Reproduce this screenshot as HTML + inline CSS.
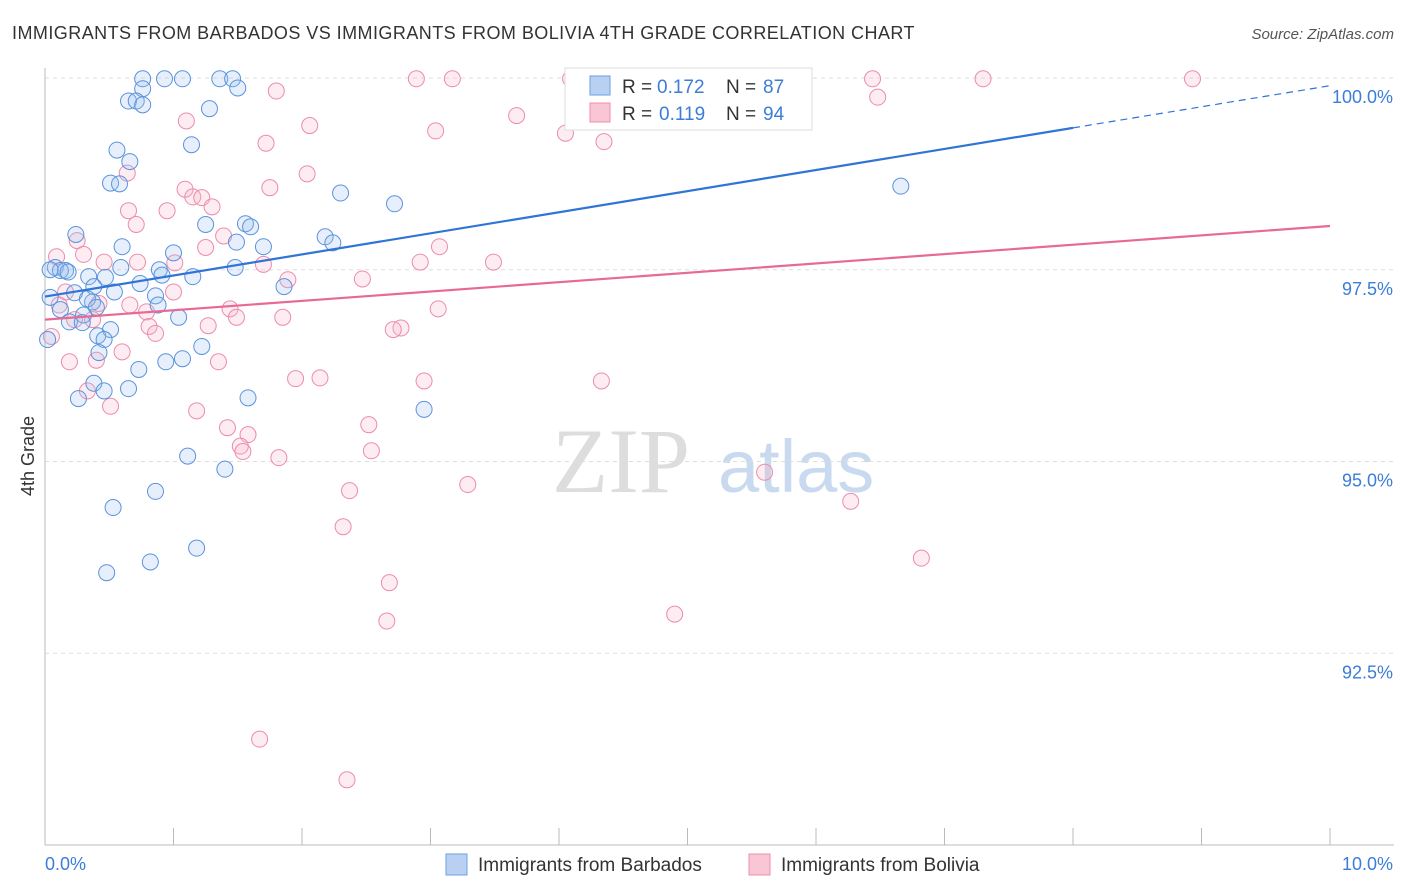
<!DOCTYPE html>
<html><head><meta charset="utf-8"><style>
body{margin:0;background:#fff;font-family:"Liberation Sans",sans-serif;}
svg{display:block}
</style></head><body>
<svg id="chart" width="1406" height="892">
<text x="12" y="39" font-size="18" fill="#333" letter-spacing="0.45">IMMIGRANTS FROM BARBADOS VS IMMIGRANTS FROM BOLIVIA 4TH GRADE CORRELATION CHART</text>
<text x="1394" y="39" font-size="15" fill="#555" font-style="italic" text-anchor="end">Source: ZipAtlas.com</text>
<text transform="translate(34,456) rotate(-90)" font-size="18" fill="#333" text-anchor="middle">4th Grade</text>
<g><text x="552" y="492" font-size="92" fill="#ddd" font-family="Liberation Serif,serif">ZIP</text><text x="718" y="492" font-size="74" fill="#c9d9ef">atlas</text></g>
<g id="grid"></g><g id="axes"></g><g id="pts"></g><g id="lines"></g>
<g>
<rect x="565" y="68" width="247" height="62" fill="#fff" stroke="#ddd"/>
<rect x="590" y="76" width="20" height="19" fill="#b8d1f3" stroke="#6e9fe0"/>
<rect x="590" y="103" width="20" height="19" fill="#f9c6d6" stroke="#ee8fae"/>
<text x="622" y="93" font-size="19" fill="#333">R =</text><text x="657" y="93" font-size="19" fill="#3b7dd8">0.172</text>
<text x="726" y="93" font-size="19" fill="#333">N =</text><text x="763" y="93" font-size="19" fill="#3b7dd8">87</text>
<text x="622" y="120" font-size="19" fill="#333">R =</text><text x="659" y="120" font-size="19" fill="#3b7dd8">0.119</text>
<text x="726" y="120" font-size="19" fill="#333">N =</text><text x="763" y="120" font-size="19" fill="#3b7dd8">94</text>
</g>
<g>
<rect x="446" y="854" width="21" height="21" fill="#b8d1f3" stroke="#6e9fe0"/>
<text x="478" y="871" font-size="19" fill="#333">Immigrants from Barbados</text>
<rect x="749" y="854" width="21" height="21" fill="#f9c6d6" stroke="#ee8fae"/>
<text x="781" y="871" font-size="19" fill="#333">Immigrants from Bolivia</text>
</g>
</svg>
<script>
const yTicks=[100,97.5,95,92.5];
const yTickLabels=["100.0%","97.5%","95.0%","92.5%"];
const xTicks=[0,1,2,3,4,5,6,7,8,9,10];
const xEndLabels=["0.0%","10.0%"];
const barbadosX=[0.76,0.93,1.07,1.36,1.46,1.50,0.76,0.65,0.71,0.76,1.28,1.14,0.56,0.66,0.51,0.58,2.30,2.72,6.66,0.24,1.56,1.60,1.25,1.49,1.70,0.60,1.00,2.18,2.24,0.08,0.16,0.12,0.18,0.59,0.89,1.48,0.47,0.34,0.74,1.15,0.91,1.86,0.54,0.04,0.23,0.38,0.37,0.86,0.88,0.33,0.12,0.40,0.30,1.04,0.19,0.29,0.51,0.41,0.46,1.22,0.42,1.07,0.94,0.73,0.38,0.65,0.46,0.26,1.58,2.95,1.11,1.40,0.86,0.53,1.18,0.82,0.48,0.02,0.04];
const barbadosY=[99.99,99.99,99.99,99.99,99.99,99.87,99.86,99.70,99.70,99.65,99.60,99.13,99.06,98.91,98.63,98.62,98.50,98.36,98.59,97.96,98.10,98.06,98.09,97.86,97.80,97.80,97.72,97.93,97.85,97.53,97.49,97.49,97.47,97.53,97.50,97.53,97.40,97.41,97.32,97.41,97.43,97.28,97.21,97.14,97.20,97.28,97.08,97.16,97.04,97.12,96.98,97.01,96.91,96.88,96.82,96.81,96.72,96.64,96.59,96.50,96.42,96.34,96.30,96.20,96.02,95.95,95.92,95.82,95.83,95.68,95.07,94.90,94.61,94.40,93.87,93.69,93.55,96.59,97.50];
const boliviaX=[4.09,2.89,3.17,5.60,6.44,7.30,8.93,1.80,6.48,3.67,1.10,2.06,3.04,4.05,4.35,1.72,2.04,0.64,1.09,1.75,1.15,1.22,1.30,0.65,0.95,0.71,1.39,0.25,1.25,3.07,0.09,0.30,0.46,0.72,1.01,1.70,2.92,3.49,2.47,1.89,1.00,0.66,0.16,0.42,0.11,0.79,1.44,1.49,1.85,3.06,0.23,0.37,0.81,0.86,1.27,2.77,2.71,0.05,0.60,0.19,0.40,1.35,1.95,2.14,2.95,4.33,0.33,1.18,0.51,1.42,2.52,1.58,1.52,1.54,2.54,1.82,5.60,3.29,2.37,6.27,2.32,6.82,2.68,4.90,2.66,1.67,2.35];
const boliviaY=[99.99,99.99,99.99,99.99,99.99,99.99,99.99,99.83,99.75,99.51,99.44,99.38,99.31,99.28,99.17,99.15,98.75,98.76,98.55,98.57,98.45,98.44,98.32,98.27,98.27,98.09,97.94,97.88,97.79,97.80,97.67,97.70,97.60,97.60,97.59,97.57,97.60,97.60,97.38,97.37,97.21,97.04,97.21,97.06,97.04,96.95,96.99,96.88,96.88,96.99,96.85,96.85,96.76,96.67,96.77,96.74,96.72,96.63,96.43,96.30,96.32,96.30,96.08,96.09,96.05,96.05,95.92,95.66,95.72,95.44,95.48,95.35,95.20,95.13,95.14,95.05,94.86,94.70,94.62,94.48,94.15,93.74,93.42,93.01,92.92,91.38,90.85];
const trendIntercept=[97.15,96.85];
const trendSlope=[0.275,0.122];
const NS="http://www.w3.org/2000/svg";
const X0=45,X1=1330,Y0=845,Y1=78;
function sx(v){return X0+(v-0)/(10-0)*(X1-X0);}
function sy(v){return Y0-(v-90)/(100-90)*(Y0-Y1);}
function mk(tag,attrs,parent){const e=document.createElementNS(NS,tag);for(const k in attrs)e.setAttribute(k,attrs[k]);parent.appendChild(e);return e;}
const grid=document.getElementById('grid'),axes=document.getElementById('axes'),pts=document.getElementById('pts'),lines=document.getElementById('lines');
yTicks.forEach((t,i)=>{
 const l=mk('line',{x1:X0,x2:1394,y1:sy(t),y2:sy(t),stroke:'#ddd','stroke-dasharray':'4,4'},grid);
 
 
 const tx=mk('text',{x:1393,y:sy(t)+25,'font-size':18,fill:'#3b7dd8','text-anchor':'end'},grid);
 tx.textContent=yTickLabels[i];
 
 
});
const ax=mk('line',{x1:X0,x2:X0,y1:68,y2:Y0,stroke:'#bbb'},axes);


const bx=mk('line',{x1:X0,x2:1394,y1:Y0,y2:Y0,stroke:'#bbb'},axes);


xTicks.forEach(t=>{
 const l=mk('line',{x1:sx(t),x2:sx(t),y1:828,y2:Y0,stroke:'#bbb'},axes);
 
 
});
[[0,'start',45],[10,'end',1393]].forEach((d,i)=>{
 const tx=mk('text',{x:d[2],y:870,'font-size':18,fill:'#3b7dd8','text-anchor':d[1]},axes);
 tx.textContent=xEndLabels[i];
 
 
});
function drawSeries(xs,ys,fill,stroke,name){
 xs.forEach((x,i)=>{
  const c=mk('circle',{cx:sx(x),cy:sy(ys[i]),r:8,fill:fill,'fill-opacity':0.25,stroke:stroke,'stroke-width':1},pts);
  
  
 });
}
drawSeries(boliviaX,boliviaY,'#f7b3c8','#ec8cab','point-bolivia');
drawSeries(barbadosX,barbadosY,'#9cc0ef','#5b93dc','point-barbados');
const b1=mk('line',{x1:sx(0),y1:sy(trendIntercept[0]),x2:sx(8),y2:sy(trendIntercept[0]+trendSlope[0]*8),stroke:'#2f74d6','stroke-width':2.2},lines);


const b2=mk('line',{x1:sx(8),y1:sy(trendIntercept[0]+trendSlope[0]*8),x2:sx(10),y2:sy(trendIntercept[0]+trendSlope[0]*10),stroke:'#2f74d6','stroke-width':1.2,'stroke-dasharray':'7,5'},lines);


const p1=mk('line',{x1:sx(0),y1:sy(trendIntercept[1]),x2:sx(10),y2:sy(trendIntercept[1]+trendSlope[1]*10),stroke:'#e86a94','stroke-width':2.2},lines);


</script>
</body></html>
